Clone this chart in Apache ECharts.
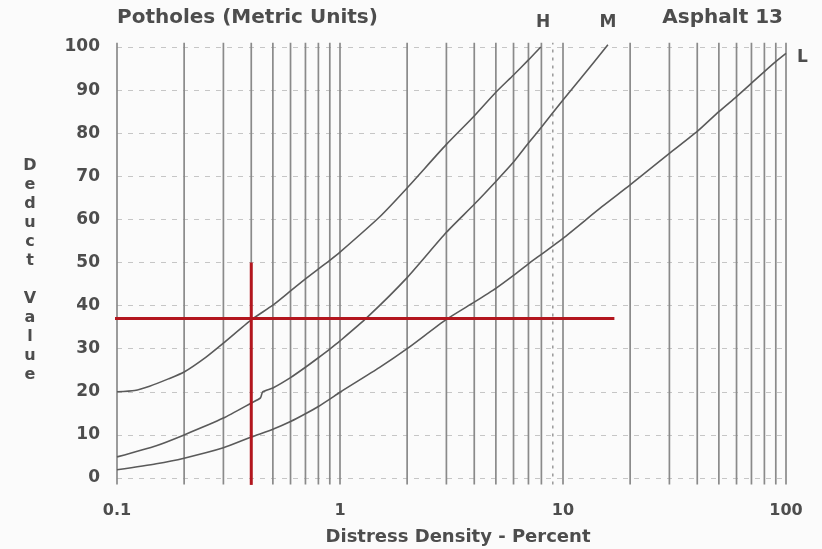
<!DOCTYPE html>
<html>
<head>
<meta charset="utf-8">
<script src="https://cdn.jsdelivr.net/npm/echarts@6/dist/echarts.min.js"></script>
<style>
html,body{margin:0;padding:0;background:#fbfbfb;}
#chart{width:822px;height:549px;}
</style>
</head>
<body>
<div id="chart"></div>
<script>
// ---- data ----
const xTickLabels = ['0.1', '1', '10', '100'];
const yTickValues = [0, 10, 20, 30, 40, 50, 60, 70, 80, 90, 100];
const gridX = [0.1,0.2,0.3,0.4,0.5,0.6,0.7,0.8,0.9,1,2,3,4,5,6,7,8,10,20,30,40,50,60,70,80,90,100];
const dottedX = [9];
const gridSpan = [-1.5, 101];

const curveH = [[0.1,20],[0.12,20.3],[0.14,21.3],[0.17,23],[0.2,24.6],[0.25,28],[0.3,31.3],[0.4,36.7],[0.5,40.1],[0.6,43.4],[0.7,46.2],[0.8,48.5],[0.9,50.5],[1,52.4],[1.5,60.5],[2,67.3],[3,77.4],[4,84],[5,89.5],[6,93.5],[7,97],[7.95,100]];
const curveM = [[0.1,4.9],[0.15,7.5],[0.2,10],[0.3,13.9],[0.4,17.4],[0.44,18.6],[0.45,20],[0.5,20.9],[0.6,23.3],[0.7,25.7],[0.8,27.9],[0.9,29.9],[1,31.8],[1.32,37.2],[2,46.5],[3,57],[4,63.5],[5,68.8],[6,73.3],[7,77.7],[8,81.4],[10,87.7],[12,92.7],[15.9,100.5]];
const curveL = [[0.1,1.9],[0.15,3.3],[0.2,4.6],[0.3,7],[0.4,9.5],[0.5,11.3],[0.6,13.1],[0.7,14.9],[0.8,16.6],[0.9,18.3],[1,19.9],[1.5,25.6],[2,30],[3,36.8],[4,40.8],[5,44],[6,47],[7,49.7],[8,51.9],[10,55.6],[15,63],[20,68],[30,75.3],[40,80.4],[50,85],[60,88.5],[70,91.6],[80,94.3],[90,96.6],[100,98.5]];

const redHorizontal = [[0.037,37],[17,37]];
const redVertical = [[0.4,50],[0.4,-1.6]];

// ---- chart ----
const chart = echarts.init(document.getElementById('chart'), null, {renderer:'canvas'});
const textColor = '#4d4d4d';
const fontFam = '"DejaVu Sans", sans-serif';

const series = [];
gridX.forEach(x => series.push({
  type:'line', data:[[x,gridSpan[0]],[x,gridSpan[1]]], clip:false, symbol:'none', silent:true,
  lineStyle:{color:'#8a8a8a', width:1.7}, z:1, animation:false
}));
dottedX.forEach(x => series.push({
  type:'line', data:[[x,gridSpan[0]],[x,gridSpan[1]]], clip:false, symbol:'none', silent:true,
  lineStyle:{color:'#9a9a9a', width:1.5, type:[3,5]}, z:1, animation:false
}));
[curveH, curveM, curveL].forEach(d => series.push({
  type:'line', data:d, smooth:0.2, symbol:'none', silent:true, clip:false,
  lineStyle:{color:'#5a5a5a', width:1.6}, z:3, animation:false
}));
[redHorizontal, redVertical].forEach(d => series.push({
  type:'line', data:d, clip:false, symbol:'none', silent:true,
  lineStyle:{color:'#b3161e', width:3}, z:5, animation:false
}));

chart.setOption({
  backgroundColor:'#fbfbfb',
  animation:false,
  grid:{left:117, right:36, top:47, bottom:71},
  xAxis:{
    type:'log', logBase:10, min:0.1, max:100,
    axisLine:{show:false}, axisTick:{show:false}, splitLine:{show:false}, minorSplitLine:{show:false},
    axisLabel:{
      margin:25, color:textColor, fontFamily:fontFam, fontWeight:'bold', fontSize:16,
      formatter:v => {
        const i = Math.round(Math.log10(v) + 1);
        return xTickLabels[i] !== undefined ? xTickLabels[i] : '';
      }
    }
  },
  yAxis:{
    type:'value', min:yTickValues[0], max:yTickValues[yTickValues.length-1], interval:10,
    axisLine:{show:false}, axisTick:{show:false},
    splitLine:{show:true, lineStyle:{color:'#c6c6c6', width:1, type:[5,6]}},
    axisLabel:{margin:17, color:textColor, fontFamily:fontFam, fontWeight:'bold', fontSize:17}
  },
  graphic:[
    {type:'text', x:117, y:18, style:{text:'Potholes (Metric Units)', font:'bold 20px '+fontFam, fill:textColor, align:'left', verticalAlign:'middle'}},
    {type:'text', x:783, y:18, style:{text:'Asphalt 13', font:'bold 20px '+fontFam, fill:textColor, align:'right', verticalAlign:'middle'}},
    {type:'text', x:543, y:23, style:{text:'H', font:'bold 17px '+fontFam, fill:textColor, align:'center', verticalAlign:'middle'}},
    {type:'text', x:608, y:23, style:{text:'M', font:'bold 17px '+fontFam, fill:textColor, align:'center', verticalAlign:'middle'}},
    {type:'text', x:797, y:58, style:{text:'L', font:'bold 17px '+fontFam, fill:textColor, align:'left', verticalAlign:'middle'}},
    {type:'text', x:458, y:537, style:{text:'Distress Density - Percent', font:'bold 18px '+fontFam, fill:textColor, align:'center', verticalAlign:'middle'}},
    {type:'text', x:30, y:156, style:{text:'D\ne\nd\nu\nc\nt\n\nV\na\nl\nu\ne', font:'bold 16px '+fontFam, lineHeight:19, fill:textColor, align:'center', verticalAlign:'top'}}
  ],
  series:series
});
</script>
</body>
</html>
